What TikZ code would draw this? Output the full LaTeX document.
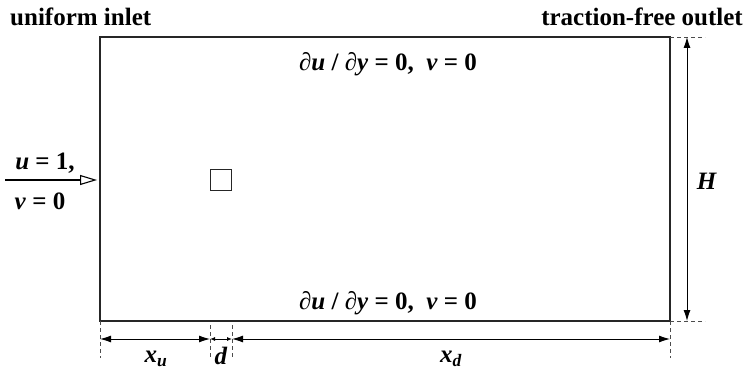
\documentclass[tikz,border=0pt]{standalone}
\usepackage{fontspec}
\setmainfont{Liberation Serif}
\usetikzlibrary{arrows.meta}

\tikzset{
  cote/.style={{Latex[length=11pt,width=7pt]}-{Latex[length=11pt,width=7pt]}, line width=0.9pt},
  petitecote/.style={{Latex[length=5pt,width=4pt]}-{Latex[length=5pt,width=4pt]}, line width=0.9pt},
  rappel/.style={dash pattern=on 4pt off 3pt, line width=0.8pt, black!70},
  lbl/.style={font=\bfseries\fontsize{25}{28}\selectfont, inner sep=0pt},
}

\begin{document}
\begin{tikzpicture}[x=1pt, y=-1pt]
\useasboundingbox (0,0) rectangle (746,377);

% Domaine
\coordinate (so) at (100,321);
\coordinate (se) at (670,321);
\coordinate (ne) at (670,37);
\coordinate (no) at (100,37);
\draw[line width=2.2pt, black!85] (so) rectangle (ne);

% Obstacle
\node[draw, line width=1.8pt, black!85, minimum size=21pt, inner sep=0pt] (carre) at (221,180) {};

% Entrée
\coordinate (depart) at (5,180);
\coordinate (entree) at (100,180);
\draw[-{Triangle[open,length=17pt,width=10pt]}, line width=1.1pt, shorten >=3pt] (depart) -- (entree);
\node[lbl] (u1) at (45,163) {\textit{u} = 1,};
\node[lbl] (v0) at (40,201) {\textit{v} = 0};

% Titres
\node[lbl, anchor=base west] (titreg) at (10,26) {uniform inlet};
\node[lbl, anchor=base east] (titred) at (743,26) {traction-free outlet};

% Conditions aux parois
\node[lbl] (clhaut) at (388,64) {∂\textit{u} / ∂\textit{y} = 0,\ \ \textit{v} = 0};
\node[lbl] (clbas) at (388,303) {∂\textit{u} / ∂\textit{y} = 0,\ \ \textit{v} = 0};

% Cotes horizontales
\coordinate (c0) at (100,339);
\coordinate (c1) at (210,339);
\coordinate (c2) at (232,339);
\coordinate (c3) at (670,339);
\draw[rappel] (so) -- (100,358);
\draw[rappel] (210,325) -- (210,358);
\draw[rappel] (232,325) -- (232,358);
\draw[rappel] (se) -- (670,358);
\draw[cote] (c0) -- (c1);
\draw[petitecote] (c1) -- (c2);
\draw[cote] (c2) -- (c3);
\node[lbl] (xu) at (156,359) {\textit{x}\textsubscript{\textit{u}}};
\node[lbl] (d) at (221,356) {\textit{d}};
\node[lbl] (xd) at (451,359) {\textit{x}\textsubscript{\textit{d}}};

% Cote verticale
\coordinate (h0) at (687,37);
\coordinate (h1) at (687,321);
\draw[rappel] (ne) -- (705,37);
\draw[rappel] (se) -- (705,321);
\draw[cote] (h0) -- (h1);
\node[lbl] (H) at (707,181) {\textit{H}};

\end{tikzpicture}
\end{document}
